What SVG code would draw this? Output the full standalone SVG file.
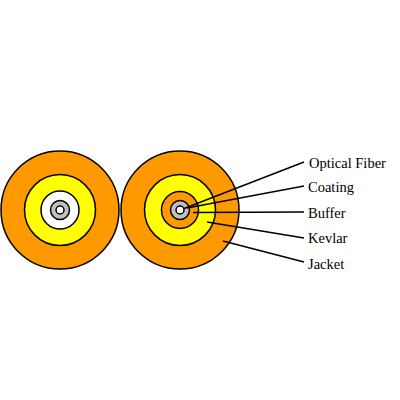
<svg xmlns="http://www.w3.org/2000/svg" width="400" height="400" viewBox="0 0 400 400">
<style>
circle{stroke:#000;stroke-width:1.5}
.o{fill:#ff9900}.y{fill:#ffff00}.w{fill:#fff}.g{fill:#c0c0c0}
line{stroke:#000;stroke-width:1.5}
text{font-family:"Liberation Serif","Times New Roman",serif;font-size:14.5px;fill:#000}
</style>
<rect width="400" height="400" fill="#fff"/>
<g id="cable-left">
<circle class="o" cx="60" cy="210" r="59"/>
<circle class="y" cx="60" cy="210" r="35.500"/>
<circle class="w" cx="60" cy="210" r="19"/>
<circle class="g" cx="60" cy="210" r="9.500"/>
<circle class="w" cx="60" cy="210" r="4"/>
</g>
<g id="cable-right">
<circle class="o" cx="180" cy="210" r="59"/>
<circle class="y" cx="180" cy="210" r="35.500"/>
<circle class="o" cx="180" cy="210" r="18.500"/>
<circle class="g" cx="180" cy="210" r="9.500"/>
<circle class="w" cx="180" cy="210" r="4"/>
</g>
<g id="connectors">
<line x1="184" y1="208.500" x2="304" y2="162"/>
<line x1="187" y1="208" x2="304" y2="186"/>
<line x1="193" y1="212.500" x2="304" y2="212"/>
<line x1="207" y1="222" x2="304" y2="238"/>
<line x1="223" y1="241" x2="304" y2="262"/>
</g>
<g id="label-optical-fiber"><text x="309" y="168">Optical Fiber</text></g>
<g id="label-coating"><text x="308" y="192">Coating</text></g>
<g id="label-buffer"><text x="308" y="218">Buffer</text></g>
<g id="label-kevlar"><text x="308" y="243">Kevlar</text></g>
<g id="label-jacket"><text x="308" y="269">Jacket</text></g>
</svg>
